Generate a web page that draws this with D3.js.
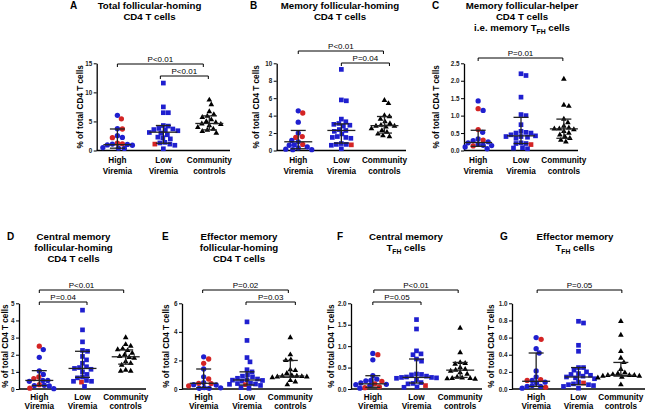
<!DOCTYPE html>
<html><head><meta charset="utf-8">
<script src="https://cdn.jsdelivr.net/npm/d3@7"></script>
<style>body{margin:0;background:#fff}svg{display:block}</style>
</head><body>
<svg id="c" width="648" height="412"></svg>
<script>
// ---------- DATA ----------
const groups = ["High Viremia","Low Viremia","Community controls"];
const groupLines = [["High","Viremia"],["Low","Viremia"],["Community","controls"]];

// Panel A
const A_title = ["Total follicular-homing","CD4 T cells"];
const A_ticks = [0,5,10,15];
const A_highBlue = [6.05,3.75,2.55,2.25,1.1,1.05,0.95,0.9,0.5,0.4,0.35];
const A_highRed  = [5.45,3.7,2.2,1.15,1.25];
const A_lowBlue  = [11.6,7.5,6.5,6.5,4.3,4.2,3.8,3.7,3.6,3.5,3.4,3.1,3.0,2.7,2.3,2.2,2.0,1.4,1.3,1.1,0.9,0.3];
const A_lowRed   = [1.1];
const A_comm     = [8.7,7.9,6.7,6.2,5.9,5.7,5.3,5.0,4.8,4.6,4.5,4.3,4.0,3.7,3.5,3.3,3.0];
const A_stats    = [[0.4,1.0,3.7],[1.25,3.15,4.3],[3.55,4.65,5.95]];
const A_pvals    = [[0,2,"P<0.01"],[1,2,"P<0.01"]];

// Panel B
const B_title = ["Memory follicular-homing","CD4 T cells"];
const B_ticks = [0,2,4,6,8,10];
const B_highBlue = [4.55,3.25,2.0,1.15,1.0,0.65,0.6,0.4,0.3,0.15,0.1,0.1];
const B_highRed  = [4.3,1.6,1.5,0.7];
const B_lowBlue  = [9.3,5.8,5.7,3.6,3.3,3.1,3.0,2.9,2.8,2.4,2.3,2.2,1.9,1.6,1.5,1.5,1.4,0.8,0.7,0.7,0.6,0.2];
const B_lowRed   = [0.65];
const B_comm     = [5.75,5.4,4.0,3.9,3.6,3.3,3.1,2.9,2.8,2.8,2.7,2.5,2.3,2.1,1.9,1.7,1.6];
const B_stats    = [[0.2,1.0,2.3],[0.85,2.3,3.05],[2.0,2.85,3.9]];
const B_pvals    = [[0,2,"P<0.01"],[1,2,"P=0.04"]];

// Panel C
const C_title = ["Memory follicular-helper","CD4 T cells","i.e. memory T_{FH} cells"];
const C_ticks = [0,0.5,1.0,1.5,2.0,2.5];
const C_highBlue = [1.42,1.15,0.52,0.33,0.28,0.25,0.22,0.18,0.15,0.14,0.1,0.05];
const C_highRed  = [1.2,0.6,0.3,0.13];
const C_lowBlue  = [2.2,2.15,1.53,1.03,1.0,0.74,0.55,0.52,0.5,0.5,0.45,0.42,0.4,0.4,0.38,0.35,0.22,0.2,0.2,0.08,0.07,0.05];
const C_lowRed   = [0.17];
const C_comm     = [2.05,1.3,1.27,0.9,0.8,0.7,0.65,0.62,0.62,0.6,0.55,0.5,0.45,0.4,0.35,0.3,0.25];
const C_stats    = [[0.12,0.23,0.58],[0.2,0.42,0.95],[0.35,0.62,0.9]];
const C_pvals    = [[0,2,"P=0.01"]];

// Panel D
const D_title = ["Central memory","follicular-homing","CD4 T cells"];
const D_ticks = [0,1,2,3,4,5];
const D_highBlue = [2.3,1.85,1.05,0.85,0.5,0.5,0.45,0.22,0.2,0.18,0.02];
const D_highRed  = [2.5,0.7,0.6,0.25,0.05];
const D_lowBlue  = [4.6,3.45,2.75,2.25,2.2,1.9,1.7,1.5,1.3,1.25,1.2,1.15,1.0,0.85,0.7,0.65,0.5,0.45,0.45,0.15];
const D_lowRed   = [0.4];
const D_comm     = [3.0,2.6,2.5,2.35,2.3,2.25,2.1,2.0,1.9,1.85,1.8,1.6,1.5,1.4,1.1,1.05,1.05];
const D_stats    = [[0.2,0.5,1.07],[0.68,1.2,2.2],[1.45,1.88,2.28]];
const D_pvals    = [[0,2,"P<0.01"],[0,1,"P=0.04"]];

// Panel E
const E_title = ["Effector memory","follicular-homing","CD4 T cells"];
const E_ticks = [0,2,4,6];
const E_highBlue = [2.25,1.4,0.85,0.45,0.3,0.28,0.1,0.08,0.05,0.05];
const E_highRed  = [2.1,1.8,0.7,0.4,0.38,0.22];
const E_lowBlue  = [4.7,3.4,2.2,1.9,1.35,1.2,1.0,0.9,0.85,0.75,0.7,0.65,0.62,0.6,0.55,0.4,0.38,0.35,0.33,0.25,0.1,0.05];
const E_lowRed   = [0.3];
const E_comm     = [3.6,2.4,2.05,2.0,1.35,1.3,1.1,0.95,0.9,0.9,0.88,0.85,0.85,0.8,0.6,0.5,0.3];
const E_stats    = [[0.1,0.4,1.4],[0.28,0.63,1.2],[0.82,0.91,2.0]];
const E_pvals    = [[0,2,"P=0.02"],[1,2,"P=0.03"]];

// Panel F
const F_title = ["Central memory","T_{FH} cells"];
const F_ticks = [0,0.5,1.0,1.5,2.0];
const F_highBlue = [0.83,0.68,0.31,0.23,0.2,0.19,0.14,0.11,0.1,0.08,0.02];
const F_highRed  = [0.8,0.18,0.12,0.05,0.03];
const F_lowBlue  = [1.62,1.4,0.89,0.82,0.8,0.7,0.65,0.35,0.34,0.33,0.3,0.28,0.27,0.27,0.26,0.25,0.22,0.15,0.13,0.12,0.05,0.04];
const F_lowRed   = [0.08];
const F_comm     = [1.42,0.85,0.62,0.6,0.58,0.5,0.46,0.44,0.42,0.38,0.35,0.28,0.26,0.25,0.25,0.24,0.23];
const F_stats    = [[0.04,0.12,0.31],[0.14,0.27,0.7],[0.27,0.44,0.62]];
const F_pvals    = [[0,2,"P<0.01"],[0,1,"P=0.05"]];

// Panel G
const G_title = ["Effector memory","T_{FH} cells"];
const G_ticks = [0,0.2,0.4,0.6,0.8,1.0];
const G_highBlue = [0.6,0.47,0.42,0.21,0.14,0.1,0.08,0.07,0.04,0.03,0.03,0.01];
const G_highRed  = [0.58,0.11,0.1,0.02];
const G_lowBlue  = [0.79,0.77,0.51,0.44,0.25,0.25,0.22,0.2,0.18,0.17,0.16,0.15,0.14,0.13,0.12,0.08,0.06,0.05,0.05,0.04,0.03,0.01];
const G_lowRed   = [0.07];
const G_comm     = [0.79,0.63,0.44,0.36,0.31,0.23,0.19,0.18,0.17,0.16,0.16,0.16,0.15,0.15,0.14,0.13,0.05];
const G_stats    = [[0.03,0.09,0.42],[0.05,0.14,0.25],[0.15,0.16,0.31]];
const G_pvals    = [[0,2,"P=0.05"]];

// ---------- LAYOUT ----------
const FONT = "'Liberation Sans', Arial, Helvetica, sans-serif";
const BLUE = "#1f1fcf", RED = "#d42424", BLACK = "#000";
const top1 = {top:63.3, bottom:150.5, titleY:8.5, lab1:12.5, lab2:10.5};
const top2 = {top:303.3, bottom:389, titleY:240, lab1:10.8, lab2:9.6};

const panels = [
 {letter:"A", title:A_title, ticks:A_ticks, fmt:"d", hb:A_highBlue, hr:A_highRed, lb:A_lowBlue, lr:A_lowRed, cc:A_comm, stats:A_stats, pv:A_pvals,
  row:top1, left:96.7, right:230, pad:0.45, ylabX:83, letterX:70, titleX:149.5, br:[{y:64,d0:0,d1:-6},{y:76,d0:-3,d1:-1}]},
 {letter:"B", title:B_title, ticks:B_ticks, fmt:"d", hb:B_highBlue, hr:B_highRed, lb:B_lowBlue, lr:B_lowRed, cc:B_comm, stats:B_stats, pv:B_pvals,
  row:top1, left:276.7, right:406, pad:0.5, ylabX:258.5, letterX:250, titleX:340, br:[{y:51,d0:0,d1:-1},{y:63,d0:0,d1:5}]},
 {letter:"C", title:C_title, ticks:C_ticks, fmt:".1f", hb:C_highBlue, hr:C_highRed, lb:C_lowBlue, lr:C_lowRed, cc:C_comm, stats:C_stats, pv:C_pvals,
  row:top1, left:464, right:578, pad:0.33, ylabX:438.5, letterX:432, titleX:522, br:[{y:58,d0:0,d1:-1}]},
 {letter:"D", title:D_title, ticks:D_ticks, fmt:"d", hb:D_highBlue, hr:D_highRed, lb:D_lowBlue, lr:D_lowRed, cc:D_comm, stats:D_stats, pv:D_pvals,
  row:top2, left:19, right:146, pad:0.47, ylabX:7.5, letterX:7, titleX:73.5, br:[{y:290,d0:0,d1:-2},{y:302,d0:0,d1:4.5}]},
 {letter:"E", title:E_title, ticks:E_ticks, fmt:"d", hb:E_highBlue, hr:E_highRed, lb:E_lowBlue, lr:E_lowRed, cc:E_comm, stats:E_stats, pv:E_pvals,
  row:top2, left:182, right:312, pad:0.5, ylabX:168.5, letterX:162, titleX:239, br:[{y:290,d0:-1,d1:-2},{y:302,d0:-1,d1:5}]},
 {letter:"F", title:F_title, ticks:F_ticks, fmt:".1f", hb:F_highBlue, hr:F_highRed, lb:F_lowBlue, lr:F_lowRed, cc:F_comm, stats:F_stats, pv:F_pvals,
  row:top2, left:351, right:482, pad:0.5, ylabX:333.5, letterX:337, titleX:406, br:[{y:290,d0:1,d1:-2},{y:302,d0:0,d1:4.5}]},
 {letter:"G", title:G_title, ticks:G_ticks, fmt:".1f", hb:G_highBlue, hr:G_highRed, lb:G_lowBlue, lr:G_lowRed, cc:G_comm, stats:G_stats, pv:G_pvals,
  row:top2, left:512, right:645, pad:0.57, ylabX:493.5, letterX:500, titleX:575, br:[{y:290,d0:1,d1:1}]}
];

const svg = d3.select("#c");

function addRichText(sel, str){
  const parts = str.split(/(_\{[^}]*\})/);
  let sub = false;
  parts.forEach(p => {
    if (!p) return;
    const m = p.match(/^_\{(.*)\}$/);
    if (m) {
      sel.append("tspan").attr("font-size", "6.8px").attr("dy", 2.6).text(m[1]);
      sub = true;
    } else {
      const t = sel.append("tspan").text(p);
      if (sub) { t.attr("dy", -2.6); sub = false; }
    }
  });
}

// beeswarm-style column scatter
function swarm(pts, y, cx, s){
  const placed = [];
  pts.slice().sort((a,b)=>b.v-a.v).forEach(p => {
    const py = y(p.v);
    let best = cx;
    outer:
    for (let d = 0; d <= 60; d += 0.5) {
      for (const sgn of (d === 0 ? [1] : [1,-1])) {
        const px = cx + sgn*d;
        if (placed.every(q => Math.hypot(q.x-px, q.y-py) >= s)) { best = px; break outer; }
      }
    }
    placed.push({x:best, y:py, c:p.c, shape:p.shape});
  });
  return placed;
}

panels.forEach(P => {
  const g = svg.append("g");
  const x = d3.scalePoint().domain(groups).range([P.left, P.right]).padding(P.pad);
  const y = d3.scaleLinear().domain([0, P.ticks[P.ticks.length-1]]).range([P.row.bottom, P.row.top]);

  // title
  g.append("text").attr("x", P.letterX).attr("y", P.row.titleY)
    .attr("font-family", FONT).attr("font-weight", "bold").attr("font-size", "10px").text(P.letter);
  P.title.forEach((ln, i) => {
    const t = g.append("text").attr("x", P.titleX).attr("y", P.row.titleY + i*11.2)
      .attr("text-anchor", "middle").attr("font-family", FONT).attr("font-weight", "bold").attr("font-size", "9.7px");
    addRichText(t, ln);
  });

  // y axis
  const ax = g.append("g").attr("transform", `translate(${P.left},0)`)
    .call(d3.axisLeft(y).tickValues(P.ticks).tickFormat(d3.format(P.fmt)).tickSize(3).tickSizeOuter(0).tickPadding(1.5));
  ax.select(".domain").attr("stroke", "#000").attr("stroke-width", 1.3);
  ax.selectAll(".tick line").attr("stroke", "#000").attr("stroke-width", 1);
  ax.selectAll(".tick text").attr("font-family", FONT).attr("font-weight", "bold").attr("font-size", "6.3px").attr("fill", "#222");

  // x axis line
  g.append("line").attr("x1", P.left).attr("x2", P.right).attr("y1", y(0)).attr("y2", y(0))
    .attr("stroke", "#000").attr("stroke-width", 1.3);

  // y label
  g.append("text").attr("transform", `translate(${P.ylabX},${(P.row.top+P.row.bottom)/2}) rotate(-90)`)
    .attr("text-anchor", "middle").attr("font-family", FONT).attr("font-weight", "bold").attr("font-size", "8.2px")
    .text("% of total CD4 T cells");

  // category labels
  groups.forEach((gname, i) => {
    groupLines[i].forEach((ln, j) => {
      g.append("text").attr("x", x(gname)).attr("y", P.row.bottom + P.row.lab1 + j*P.row.lab2)
        .attr("text-anchor", "middle").attr("font-family", FONT).attr("font-weight", "bold").attr("font-size", "8.2px").text(ln);
    });
  });

  // points
  const sets = [
    [...P.hb.map(v=>({v, c:BLUE, shape:"circle"})), ...P.hr.map(v=>({v, c:RED, shape:"circle"}))],
    [...P.lb.map(v=>({v, c:BLUE, shape:"square"})), ...P.lr.map(v=>({v, c:RED, shape:"square"}))],
    P.cc.map(v=>({v, c:BLACK, shape:"triangle"}))
  ];
  const sym = {circle: d3.symbol(d3.symbolCircle, 22)(), square: d3.symbol(d3.symbolSquare, 22)(), triangle: d3.symbol(d3.symbolTriangle, 14)()};
  sets.forEach((pts, i) => {
    const placed = swarm(pts, y, x(groups[i]), 5.0);
    g.append("g").selectAll("path").data(placed).join("path")
      .attr("d", d => sym[d.shape]).attr("transform", d => `translate(${d.x},${d.y})`).attr("fill", d => d.c);
  });

  // median + IQR
  P.stats.forEach((s, i) => {
    const cx = x(groups[i]);
    const sg = g.append("g").attr("stroke", "#222").attr("stroke-width", 1.3);
    sg.append("line").attr("x1", cx).attr("x2", cx).attr("y1", y(s[0])).attr("y2", y(s[2]));
    sg.append("line").attr("x1", cx-7.5).attr("x2", cx+7.5).attr("y1", y(s[0])).attr("y2", y(s[0]));
    sg.append("line").attr("x1", cx-7.5).attr("x2", cx+7.5).attr("y1", y(s[2])).attr("y2", y(s[2]));
    sg.append("line").attr("x1", cx-14).attr("x2", cx+14).attr("y1", y(s[1])).attr("y2", y(s[1]));
  });

  // brackets
  P.pv.forEach((b, k) => {
    const L = P.br[k];
    const x0 = x(groups[b[0]]) + L.d0, x1 = x(groups[b[1]]) + L.d1;
    g.append("path").attr("d", `M${x0},${L.y+3}V${L.y}H${x1}V${L.y+3}`)
      .attr("fill", "none").attr("stroke", "#000").attr("stroke-width", 1);
    g.append("text").attr("x", (x0+x1)/2).attr("y", L.y-2.5).attr("text-anchor", "middle")
      .attr("font-family", FONT).attr("font-size", "8px").text(b[2]);
  });
});
</script>
</body></html>
